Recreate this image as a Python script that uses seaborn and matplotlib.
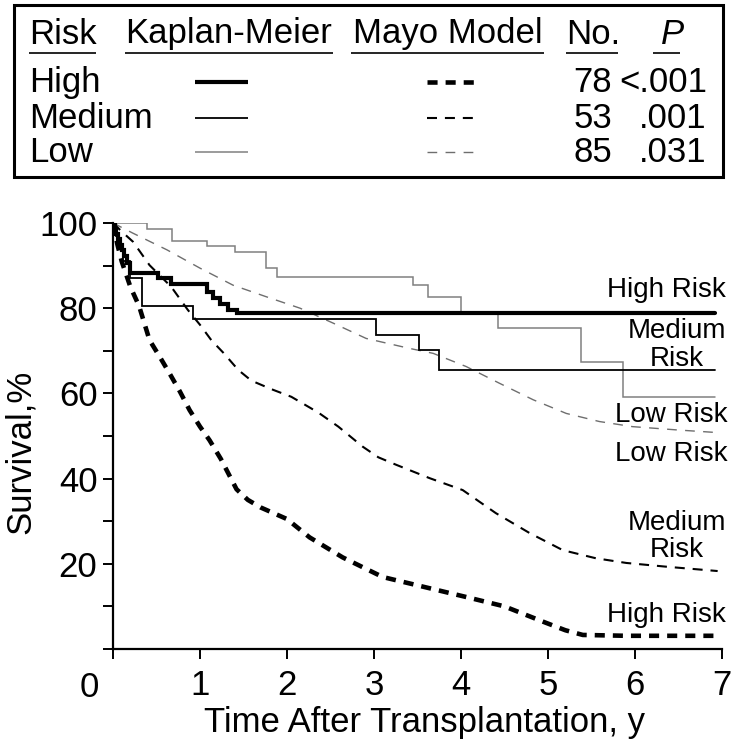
import matplotlib
matplotlib.use("Agg")
import matplotlib.pyplot as plt
import seaborn as sns
import pandas as pd
from matplotlib.patches import Rectangle

# ---------------- data ----------------
risk_groups = ["High", "Medium", "Low"]
patients_n = ["78", "53", "85"]
p_values = ["<.001", ".001", ".031"]

# Kaplan-Meier (observed) step curves: time (y) and survival (%)
km_high_t = [0, 0.02, 0.04, 0.06, 0.08, 0.10, 0.13, 0.16, 0.19, 0.52, 0.67, 1.075, 1.15, 1.23, 1.32, 1.42, 6.92]
km_high_s = [100, 98.7, 97.4, 96.2, 94.9, 93.6, 92.3, 90.5, 88.2, 87.0, 85.7, 83.9, 82.3, 80.9, 79.6, 78.8, 78.8]

km_med_t = [0, 0.03, 0.07, 0.12, 0.20, 0.33, 0.92, 3.02, 3.52, 3.75, 6.92]
km_med_s = [100, 97.0, 94.0, 91.0, 87.2, 80.4, 77.5, 73.7, 70.2, 65.5, 65.5]

km_low_t = [0, 0.39, 0.68, 1.075, 1.40, 1.76, 1.88, 3.45, 3.62, 4.00, 4.42, 5.38, 5.86, 6.92]
km_low_s = [100, 98.5, 95.8, 94.7, 93.3, 89.4, 87.4, 85.4, 82.7, 79.2, 75.3, 67.4, 59.2, 59.2]

# Mayo model (predicted) smooth curves
mayo_high_t = [0, 0.05, 0.10, 0.20, 0.30, 0.42, 0.54, 0.65, 0.77, 0.88, 1.00, 1.11, 1.24, 1.42, 1.55, 1.70,
               2.00, 2.26, 2.64, 3.10, 3.57, 4.04, 4.50, 4.97, 5.20, 5.40, 5.90, 6.95]
mayo_high_s = [100, 95.0, 91.0, 85.0, 80.5, 72.5, 68.5, 64.7, 60.4, 56.1, 52.2, 49.0, 44.6, 37.5, 35.0, 33.2,
               30.5, 26.2, 21.5, 16.9, 14.6, 12.3, 10.0, 6.2, 4.4, 3.3, 3.1, 3.1]

mayo_med_t = [0, 0.10, 0.23, 0.42, 0.67, 0.86, 1.00, 1.13, 1.27, 1.44, 1.59, 1.82, 2.05, 2.36, 2.59, 2.87,
              3.05, 3.26, 3.64, 4.02, 4.40, 4.79, 5.17, 5.55, 5.90, 6.37, 6.95]
mayo_med_s = [100, 98.0, 95.6, 90.1, 85.0, 79.6, 76.1, 72.5, 69.5, 65.5, 63.0, 61.0, 59.2, 55.5, 52.2, 47.5,
              45.0, 43.2, 40.1, 37.3, 31.9, 27.2, 23.2, 21.3, 20.2, 19.3, 18.3]

mayo_low_t = [0, 0.23, 0.62, 1.00, 1.38, 1.76, 2.15, 2.53, 2.91, 3.40, 3.68, 4.06, 4.44, 4.83, 5.21, 5.59,
              5.97, 6.50, 6.95]
mayo_low_s = [100, 97.6, 93.7, 89.4, 85.4, 82.7, 80.0, 76.5, 72.9, 70.6, 69.4, 66.3, 62.4, 58.5, 55.3, 53.4,
              52.2, 51.4, 50.8]

x_ticks = [0, 1, 2, 3, 4, 5, 6, 7]
x_tick_labels = ["", "1", "2", "3", "4", "5", "6", "7"]
y_ticks = [0, 10, 20, 30, 40, 50, 60, 70, 80, 90, 100]
y_tick_labels = ["", "", "20", "", "40", "", "60", "", "80", "", "100"]

# ---------------- styles ----------------
BLACK = "black"
GRAY_KM = "#808080"
GRAY_MAYO = "#6e6e6e"
km_styles = {
    "High": dict(color=BLACK, linewidth=3.0),
    "Medium": dict(color=BLACK, linewidth=1.3),
    "Low": dict(color=GRAY_KM, linewidth=1.1),
}
mayo_styles = {
    "High": dict(color=BLACK, linewidth=3.3, linestyle=(0, (2.2, 1.75))),
    "Medium": dict(color=BLACK, linewidth=1.5, linestyle=(0, (4.8, 3.8))),
    "Low": dict(color=GRAY_MAYO, linewidth=1.0, linestyle=(0, (7.0, 6.0))),
}

sns.set_theme(style="white")
plt.rcParams["font.family"] = ["Liberation Sans", "DejaVu Sans"]
plt.rcParams["lines.solid_joinstyle"] = "miter"
plt.rcParams["lines.dash_capstyle"] = "butt"
plt.rcParams["text.color"] = BLACK
plt.rcParams["axes.labelcolor"] = BLACK
plt.rcParams["xtick.color"] = BLACK
plt.rcParams["ytick.color"] = BLACK

W, H = 733, 751
fig = plt.figure(figsize=(W / 100, H / 100), dpi=100)
ax = fig.add_axes([113 / W, 1 - 649 / H, 609 / W, 426 / H])

km = {"High": (km_high_t, km_high_s), "Medium": (km_med_t, km_med_s), "Low": (km_low_t, km_low_s)}
mayo = {"High": (mayo_high_t, mayo_high_s), "Medium": (mayo_med_t, mayo_med_s), "Low": (mayo_low_t, mayo_low_s)}

for g in ["Low", "Medium", "High"]:
    t, s = mayo[g]
    df = pd.DataFrame({"time": t, "survival": s})
    sns.lineplot(data=df, x="time", y="survival", ax=ax, estimator=None, legend=False, **mayo_styles[g])
for g in ["Low", "Medium", "High"]:
    t, s = km[g]
    df = pd.DataFrame({"time": t, "survival": s})
    sns.lineplot(data=df, x="time", y="survival", ax=ax, estimator=None, legend=False,
                 drawstyle="steps-post", **km_styles[g])

ax.set_xlim(0, 7)
ax.set_ylim(0, 100)
ax.set_xticks(x_ticks)
ax.set_xticklabels(x_tick_labels)
ax.set_yticks(y_ticks)
ax.set_yticklabels(y_tick_labels)
ax.tick_params(axis="both", which="major", bottom=True, left=True, direction="out", length=7.2,
               width=1.4, labelsize=25, colors=BLACK, labelcolor=BLACK)
ax.tick_params(axis="x", pad=7.5)
ax.tick_params(axis="y", pad=4)
sns.despine(ax=ax)
for sp in ["left", "bottom"]:
    ax.spines[sp].set_linewidth(1.6)
    ax.spines[sp].set_color(BLACK)
ax.set_xlabel("Time After Transplantation, y", fontsize=25, color=BLACK)
ax.set_ylabel("Survival,%", fontsize=25, color=BLACK)
ax.xaxis.set_label_coords(0.512, -0.133)
ax.yaxis.set_label_coords(-0.125, 0.4625)
ax.set_facecolor("white")

# curve labels on the right
lab_fs = 20
ax.text(7.05, 82.6, "High Risk", ha="right", va="baseline", fontsize=lab_fs, clip_on=False)
ax.text(6.48, 72.9, "Medium", ha="center", va="baseline", fontsize=lab_fs, clip_on=False)
ax.text(6.48, 66.4, "Risk", ha="center", va="baseline", fontsize=lab_fs, clip_on=False)
ax.text(7.06, 53.4, "Low Risk", ha="right", va="baseline", fontsize=lab_fs, clip_on=False)
ax.text(7.06, 44.2, "Low Risk", ha="right", va="baseline", fontsize=lab_fs, clip_on=False)
ax.text(6.48, 27.9, "Medium", ha="center", va="baseline", fontsize=lab_fs, clip_on=False)
ax.text(6.48, 21.7, "Risk", ha="center", va="baseline", fontsize=lab_fs, clip_on=False)
ax.text(7.05, 6.4, "High Risk", ha="right", va="baseline", fontsize=lab_fs, clip_on=False)

# ---------------- overlay (pixel coords) for legend table and corner "0" ----------------
ov = fig.add_axes([0, 0, 1, 1], facecolor="none")
ov.set_xlim(0, W)
ov.set_ylim(H, 0)
ov.axis("off")

ov.text(89, 697, "0", ha="center", va="baseline", fontsize=25)

ov.add_patch(Rectangle((14, 4.5), 708.5, 172.5, fill=False, edgecolor=BLACK, linewidth=2.2))
fs = 25
hdr_y = 43.5
headers = [("Risk", 29, 29, 96, "normal"), ("Kaplan-Meier", 125, 125, 333, "normal"),
           ("Mayo Model", 353, 351, 544, "normal"), ("No.", 566, 566, 618, "normal"),
           ("P", 661, 653, 680, "italic")]
for txt, x, u0, u1, st in headers:
    ov.text(x, hdr_y, txt, ha="left", va="baseline", fontsize=fs, style=st)
    ov.plot([u0, u1], [53, 53], color=BLACK, linewidth=1.2, solid_capstyle="butt")

row_base = [91.7, 128.3, 161.7]
sample_y = [81.5, 118.0, 152.0]
for i, g in enumerate(risk_groups):
    ov.text(29, row_base[i], g, ha="left", va="baseline", fontsize=fs)
    ov.plot([195, 248], [sample_y[i], sample_y[i]], solid_capstyle="butt", **km_styles[g])
    ov.plot([427, 476], [sample_y[i], sample_y[i]], **mayo_styles[g])
    ov.text(612, row_base[i], patients_n[i], ha="right", va="baseline", fontsize=fs)
    ov.text(707, row_base[i], p_values[i], ha="right", va="baseline", fontsize=fs)

fig.savefig("out.png", dpi=100, facecolor="white")
